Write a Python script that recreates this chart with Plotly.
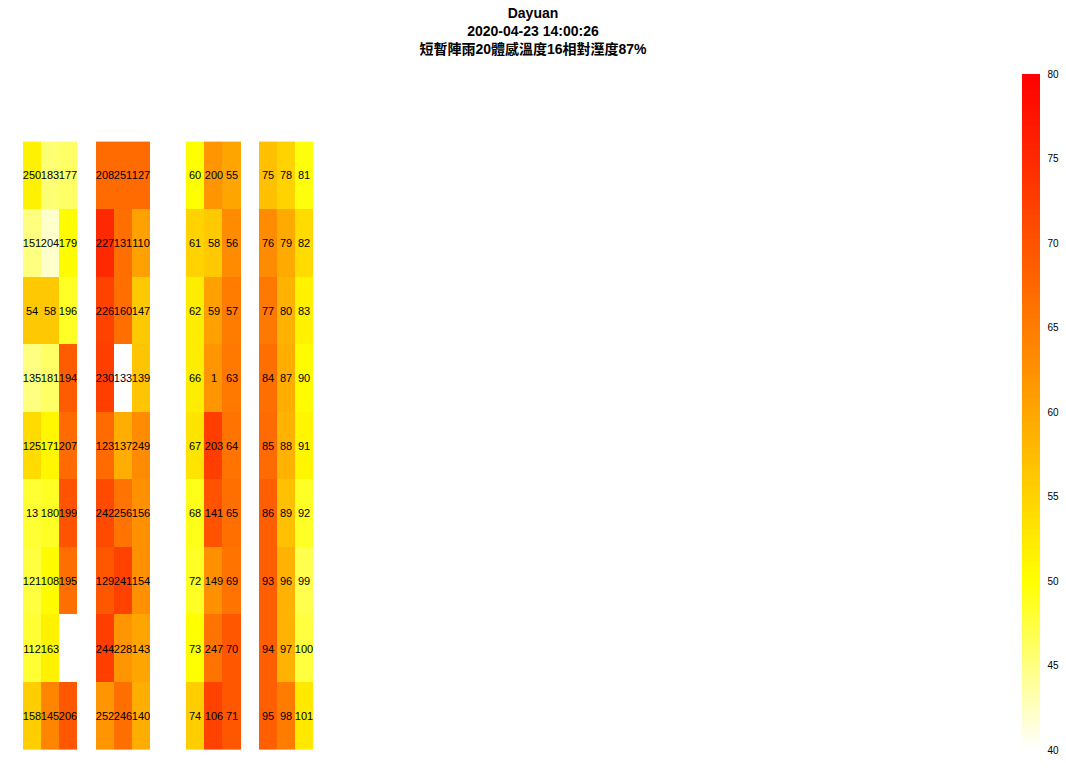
import plotly.graph_objects as go

# ---- data ----
# Seat labels (rows top to bottom), per block of three columns
seats_a = [[250, 183, 177], [151, 204, 179], [54, 58, 196], [135, 181, 194], [125, 171, 207],
           [13, 180, 199], [121, 108, 195], [112, 163, None], [158, 145, 206]]
seats_b = [[208, 251, 127], [227, 131, 110], [226, 160, 147], [230, 133, 139], [123, 137, 249],
           [242, 256, 156], [129, 241, 154], [244, 228, 143], [252, 246, 140]]
seats_c = [[60, 200, 55], [61, 58, 56], [62, 59, 57], [66, 1, 63], [67, 203, 64],
           [68, 141, 65], [72, 149, 69], [73, 247, 70], [74, 106, 71]]
seats_d = [[75, 78, 81], [76, 79, 82], [77, 80, 83], [84, 87, 90], [85, 88, 91],
           [86, 89, 92], [93, 96, 99], [94, 97, 100], [95, 98, 101]]

# Values (colour) per seat
vals_a = [[51.5, 45.5, 46], [45, 42, 50.5], [56, 56, 48.5], [45, 46, 69], [54, 51, 67],
          [48, 48.5, 70], [47.5, 50.5, 66.5], [48, 51.5, None], [55.5, 64, 69.5]]
vals_b = [[67, 67, 67], [75, 66.5, 60.5], [72, 66.5, 56], [72.5, 40, 56.5], [67, 59, 63],
          [71, 66, 62.5], [69.5, 72, 62.5], [72.5, 62, 60], [62, 66.5, 59]]
vals_c = [[50, 62, 60], [55, 56, 63], [52, 60.5, 65], [52, 62, 65.5], [53, 72.5, 66],
          [49, 70, 66.5], [48.5, 62.5, 66], [50, 66, 69.5], [55.5, 72, 69.5]]
vals_d = [[57, 55, 49.5], [63, 59.5, 54], [65.5, 58.5, 51.5], [66.5, 59, 50.5], [67, 58.5, 51],
          [68.5, 57, 48.5], [68.5, 58.5, 47], [68.5, 58.5, 47.5], [68.5, 65, 52.5]]

# Column index of each block's three columns
cols_a = [0, 1, 2]
cols_b = [4, 5, 6]
cols_c = [9, 10, 11]
cols_d = [13, 14, 15]

tick_vals = [40, 45, 50, 55, 60, 65, 70, 75, 80]
title_lines = ["Dayuan", "2020-04-23 14:00:26", "短暫陣雨20體感溫度16相對溼度87%"]

# ---- build grid ----
n_rows = 9
n_cols = 16
z = [[None] * n_cols for _ in range(n_rows)]
txt = [[""] * n_cols for _ in range(n_rows)]
for seats, vals, cols in [(seats_a, vals_a, cols_a), (seats_b, vals_b, cols_b),
                          (seats_c, vals_c, cols_c), (seats_d, vals_d, cols_d)]:
    for r in range(n_rows):
        for k, c in enumerate(cols):
            z[r][c] = vals[r][k]
            txt[r][c] = "" if seats[r][k] is None else str(seats[r][k])

colorscale = [[0.0, "#ffffff"], [0.25, "#ffff00"], [0.5, "#ffa500"], [1.0, "#ff0000"]]

fig = go.Figure(go.Heatmap(
    z=z,
    x=list(range(n_cols)),
    y=list(range(n_rows)),
    text=txt,
    texttemplate="%{text}",
    textfont=dict(size=11, color="black", family="Liberation Sans, Arial, sans-serif"),
    colorscale=colorscale,
    zmin=40, zmax=80,
    xgap=0, ygap=0,
    hoverongaps=False,
    colorbar=dict(
        tickvals=tick_vals,
        ticktext=[str(v) for v in tick_vals],
        thickness=18,
        len=1,
        ypad=0,
        outlinewidth=0,
        ticks="outside",
        ticklen=6,
        tickcolor="rgba(0,0,0,0)",
        tickfont=dict(size=10, color="black", family="Liberation Sans, Arial, sans-serif"),
    ),
))

W, H = 1066, 780
ml, mr, mt, mb = 23, 73, 74, 30
plot_w = W - ml - mr
cell_px = 18.15
x_max = -0.5 + plot_w / cell_px

fig.update_layout(
    width=W, height=H,
    margin=dict(l=ml, r=mr, t=mt, b=mb, autoexpand=False),
    paper_bgcolor="white",
    plot_bgcolor="white",
    font=dict(family="Liberation Sans, Arial, Noto Sans CJK TC, sans-serif", color="black"),
    title=dict(
        text="<b>" + "<br>".join(title_lines) + "</b>",
        x=0.5, xanchor="center",
        y=0.977, yanchor="top",
        font=dict(size=14, color="black",
                  family="Liberation Sans, Arial, Noto Sans CJK TC, sans-serif"),
    ),
    xaxis=dict(range=[-0.5, x_max], visible=False, showgrid=False, zeroline=False),
    yaxis=dict(range=[n_rows - 0.5, -1.5], visible=False, showgrid=False, zeroline=False),
)

fig.write_html("out.html")
